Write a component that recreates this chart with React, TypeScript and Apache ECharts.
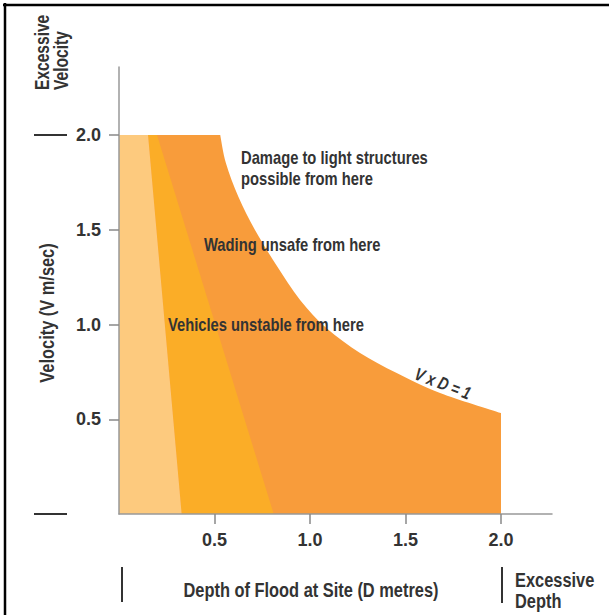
import React, { useEffect, useRef } from "react";
import * as echarts from "echarts";

// Tick labels
const xTickValues = [0.5, 1.0, 1.5, 2.0];
const yTickValues = [0.5, 1.0, 1.5, 2.0];

// Zone boundaries: [depth D (m), velocity V (m/s)]
const lowHazardZone = [[0, 0], [0, 2.0], [0.152, 2.0], [0.328, 0]];
const vehicleZone = [[0.152, 2.0], [0.199, 2.0], [0.81, 0], [0.328, 0]];

// V x D = 1 boundary curve
const curveDepth = [0.53, 0.56, 0.625, 0.712, 0.826, 0.948, 1.087, 1.262, 1.454, 1.681, 2.0];
const curveVelocity = [2.0, 1.851, 1.674, 1.499, 1.31, 1.13, 0.98, 0.85, 0.744, 0.639, 0.533];

const COLOR_LIGHT = "#FDCA7E";
const COLOR_YELLOW = "#FBAD27";
const COLOR_ORANGE = "#F89C3B";
const TEXT = "#333333";
const FONT = '"Liberation Sans", Arial, Helvetica, sans-serif';
const NARROW = 0.82;

export default function App() {
  const ref = useRef<HTMLDivElement>(null);

  useEffect(() => {
    if (!ref.current) return;
    const chart = echarts.init(ref.current, undefined, { renderer: "svg" });

    const renderZones = (_params: any, api: any) => {
      const start = api.coord([0, 0]);
      const top = api.coord([0, 2.0]);
      const pts = curveDepth.map((d, i) => api.coord([d, curveVelocity[i]]));
      const last = pts[pts.length - 1];
      const bottomRight = api.coord([curveDepth[curveDepth.length - 1], 0]);
      let d = `M${start[0]},${start[1]} L${top[0]},${top[1]} L${pts[0][0]},${pts[0][1]}`;
      for (let i = 0; i < pts.length - 1; i++) {
        const p0 = pts[Math.max(0, i - 1)];
        const p1 = pts[i];
        const p2 = pts[i + 1];
        const p3 = pts[Math.min(pts.length - 1, i + 2)];
        const c1x = p1[0] + (p2[0] - p0[0]) / 6;
        const c1y = p1[1] + (p2[1] - p0[1]) / 6;
        const c2x = p2[0] - (p3[0] - p1[0]) / 6;
        const c2y = p2[1] - (p3[1] - p1[1]) / 6;
        d += ` C${c1x},${c1y} ${c2x},${c2y} ${p2[0]},${p2[1]}`;
      }
      d += ` L${last[0]},${last[1]} L${bottomRight[0]},${bottomRight[1]} Z`;
      return {
        type: "group",
        children: [
          { type: "path", shape: { pathData: d }, style: { fill: COLOR_ORANGE } },
          {
            type: "polygon",
            shape: { points: vehicleZone.map((p) => api.coord(p)) },
            style: { fill: COLOR_YELLOW },
          },
          {
            type: "polygon",
            shape: { points: lowHazardZone.map((p) => api.coord(p)) },
            style: { fill: COLOR_LIGHT },
          },
        ],
      };
    };

    const txt = (text: string, x: number, y: number, opts: any = {}) => ({
      type: "text",
      x,
      y,
      rotation: opts.rotation || 0,
      scaleX: NARROW,
      scaleY: opts.scaleY || 1.05,
      z: 10,
      style: {
        text,
        fill: TEXT,
        font: `${opts.italic ? "italic " : ""}bold ${opts.size || 18}px ${FONT}`,
        align: opts.align || "left",
        verticalAlign: "middle",
        textAlign: opts.align || "left",
        textVerticalAlign: "middle",
      },
    });

    const dash = (x1: number, y1: number, x2: number, y2: number) => ({
      type: "line",
      z: 10,
      shape: { x1, y1, x2, y2 },
      style: { stroke: "#333", lineWidth: 2 },
    });

    const axisLabelStyle = {
      color: TEXT,
      fontFamily: FONT,
      fontWeight: "bold",
      fontSize: 18,
      formatter: (v: number) => v.toFixed(1),
    };

    chart.setOption({
      animation: false,
      grid: { left: 119, right: 57, top: 67, bottom: 101 },
      xAxis: {
        type: "value",
        min: 0,
        max: 2.267,
        z: 5,
        splitLine: { show: false },
        axisLine: { lineStyle: { color: "#999", width: 1.5 } },
        axisTick: {
          customValues: xTickValues,
          length: 10,
          lineStyle: { color: "#888", width: 1.5 },
        },
        axisLabel: { customValues: xTickValues, margin: 17, ...axisLabelStyle },
      },
      yAxis: {
        type: "value",
        min: 0,
        max: 2.359,
        z: 5,
        splitLine: { show: false },
        axisLine: { lineStyle: { color: "#999", width: 1.5 } },
        axisTick: {
          customValues: yTickValues,
          length: 10,
          lineStyle: { color: "#888", width: 1.5 },
        },
        axisLabel: { customValues: yTickValues, margin: 18, ...axisLabelStyle },
      },
      series: [
        {
          type: "custom",
          renderItem: renderZones,
          data: [[0, 0]],
          clip: false,
          silent: true,
        },
      ],
      graphic: [
        // frame
        { type: "line", shape: { x1: 3, y1: 5, x2: 609, y2: 5 }, style: { stroke: "#000", lineWidth: 2.5 } },
        { type: "line", shape: { x1: 5, y1: 3, x2: 5, y2: 615 }, style: { stroke: "#000", lineWidth: 2.5 } },
        // markers
        dash(34, 135, 67, 135),
        dash(34, 514, 67, 514),
        dash(122, 567, 122, 602),
        dash(502, 567, 502, 603),
        // axis titles
        txt("Excessive", 42, 90, { rotation: Math.PI / 2, size: 19 }),
        txt("Velocity", 61, 90, { rotation: Math.PI / 2, size: 19 }),
        txt("Velocity (V m/sec)", 47, 313, { rotation: Math.PI / 2, size: 20, align: "center" }),
        txt("Depth of Flood at Site (D metres)", 311, 590, { size: 20, align: "center" }),
        txt("Excessive", 515, 580, { size: 20 }),
        txt("Depth", 515, 601, { size: 20 }),
        // annotations
        txt("Damage to light structures", 241, 158),
        txt("possible from here", 241, 179),
        txt("Wading unsafe from here", 204, 245),
        txt("Vehicles unstable from here", 168, 325),
        txt("V x D = 1", 443, 383, { rotation: -0.37, size: 17, italic: true, align: "center" }),
      ],
    });

    return () => chart.dispose();
  }, []);

  return (
    <div
      ref={ref}
      style={{ position: "fixed", left: 0, top: 0, width: 609, height: 615, background: "#fff" }}
    />
  );
}
